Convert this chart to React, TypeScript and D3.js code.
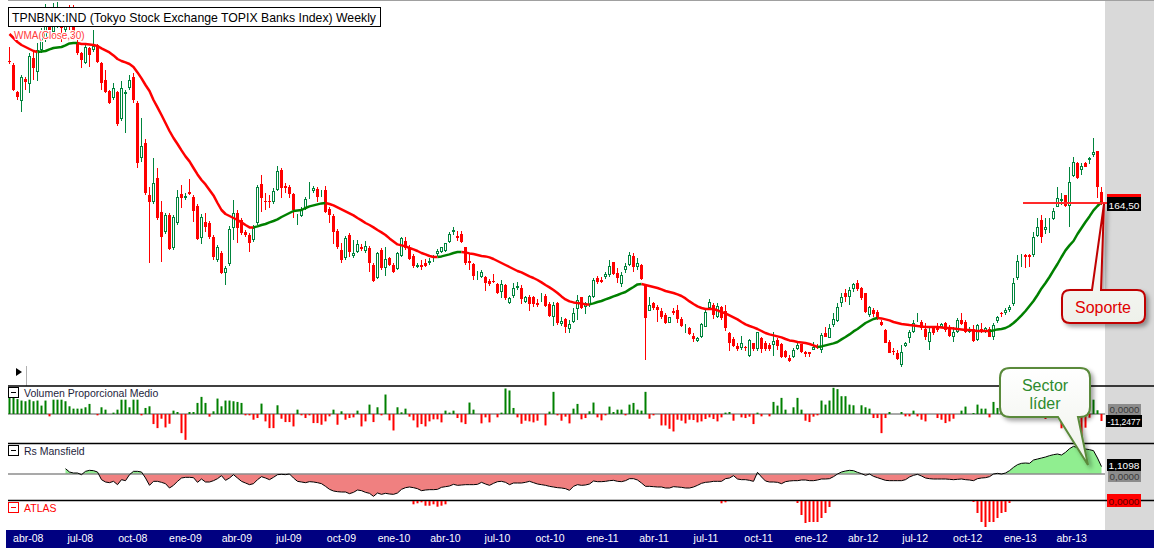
import React from 'react'
import * as d3 from 'd3'

// weekly candles: first and last week (Fridays)
const firstWeek = new Date(2008, 2, 7)
const lastWeek = new Date(2013, 4, 31)

const opens = [
  236, 234, 220.5, 216, 227, 224.5, 237.5, 230.5, 241.5, 247.5,
  255.5, 250.5, 258.5, 259.5, 251.5, 258.5, 259.5, 245.5, 240, 235,
  242.5, 241.5, 244, 235, 226.5, 221, 217.5, 220.5, 207, 219.5,
  222.5, 228, 215, 187.5, 195, 169, 165.5, 177.5, 160.5, 150.5,
  159, 142.5, 155, 169.5, 167.5, 170.5, 168, 163.5, 147.5, 155.5,
  155, 148, 136.5, 140, 130, 134.5, 152.5, 160, 156.5, 150.5,
  149, 146.5, 155, 174.5, 166, 166, 165.5, 171.5, 181.5, 173.5,
  173, 169.5, 156.5, 158.5, 162, 169.5, 171, 172, 170, 171.5,
  162, 158.5, 151, 141.5, 137.5, 149, 138.5, 140.5, 143, 141,
  142.5, 134, 127.5, 141.5, 132.5, 137.5, 134, 132, 138.5, 146,
  143, 138.5, 133, 134, 135, 135, 137.5, 139.5, 140.5, 141,
  145.5, 150.5, 148.5, 149.5, 143, 136, 134.5, 129, 128, 128,
  126, 126, 124.5, 120.5, 124, 115, 118.5, 122.5, 122.5, 115.5,
  118, 118, 115, 116.5, 118.5, 114.5, 108, 115, 104.5, 107,
  102, 105.5, 112, 118, 113, 114, 118, 127.5, 126.5, 128,
  129, 135.5, 130, 124.5, 131.5, 134, 138.5, 133, 134, 124,
  111, 115, 113, 111, 109, 105, 111, 111.5, 107, 103,
  102.5, 98.5, 96, 98, 103, 112.5, 114, 108, 113, 111,
  100, 97, 93.5, 92.5, 93, 88.5, 95, 92, 97.5, 95,
  94, 94, 96.5, 94.5, 91, 87.5, 88, 92, 94.5, 90.5,
  90.5, 91.5, 93.5, 91.5, 100, 97.5, 104, 106, 115, 120,
  118, 122, 125, 122.5, 120, 109, 111.5, 110.5, 105.5, 101.5,
  95.5, 91, 90, 84, 93.5, 97.5, 100.5, 107, 105.5, 102,
  95.5, 103, 103, 103, 105, 103, 98, 100.5, 106.5, 105.5,
  100.5, 102, 96.5, 102, 100.5, 102, 98, 106, 110, 110,
  111.5, 114.5, 127.5, 137.5, 139, 139, 139, 148.5, 156.5, 151.5,
  155.5, 157, 163, 166, 169, 163.5, 178.5, 185, 181.5, 185,
  186.5, 189, 191, 170.5,
]

const highs = [
  243, 235, 221, 229, 228, 240, 240.5, 245, 252.5, 264.5,
  259.5, 265, 265.5, 262.5, 261.5, 264, 264, 246.5, 240.5, 244,
  243, 251.5, 244.5, 235.5, 231.5, 221.5, 225, 221, 226, 221.5,
  229, 230, 216, 207.5, 197, 173, 187.5, 182.5, 166, 160,
  160, 159, 171.5, 174, 170, 177, 169, 164.5, 159.5, 160,
  156, 149, 144, 141, 133.5, 153.5, 166.5, 161.5, 157.5, 151.5,
  150, 154, 174, 179, 170, 169, 172.5, 183.5, 182.5, 175,
  174, 170, 159.5, 163, 168, 175.5, 173.5, 173, 171.5, 173.5,
  163, 159.5, 152, 145, 148.5, 150, 146.5, 146.5, 144.5, 146,
  143.5, 135, 140.5, 142.5, 143, 138, 135, 140.5, 148, 148,
  144, 139.5, 135, 136.5, 137, 137.5, 139, 142, 143, 145,
  150.5, 153, 151, 151, 143, 140, 135, 131, 131.5, 128.5,
  127, 129.5, 125, 126.5, 124.5, 118, 125, 125.5, 124, 118.5,
  119, 118.5, 117, 120, 119.5, 115.5, 115.5, 115.5, 108, 107.5,
  106.5, 112.5, 119, 118, 115.5, 119, 127.5, 128.5, 128, 130.5,
  136.5, 135.5, 132.5, 130.5, 135, 140.5, 140, 137.5, 134.5, 124,
  118, 115.5, 114, 112.5, 110, 108, 112.5, 114, 108, 104.5,
  103, 100, 98, 105, 111.5, 117, 115, 115, 113.5, 114,
  100.5, 98, 95, 98.5, 93.5, 97, 95, 100.5, 98, 96,
  95, 100.5, 97.5, 95, 91.5, 89, 92.5, 95.5, 94.5, 91,
  90.5, 95.5, 94.5, 100, 103, 104.5, 110, 115, 120, 122,
  123, 125, 126.5, 123, 120, 113.5, 112.5, 111.5, 106.5, 102,
  96.5, 92.5, 91.5, 94, 95.5, 101.5, 106.5, 110, 106.5, 105,
  102.5, 103.5, 105, 105, 105.5, 104, 103, 107.5, 110, 106.5,
  103, 104, 104.5, 105, 103, 103, 105, 108.5, 110.5, 112.5,
  114, 127.5, 139, 139.5, 139.5, 139.5, 150.5, 157.5, 159, 157.5,
  157.5, 162.5, 173, 170, 169, 183, 188, 185.5, 185, 185.5,
  188, 197.5, 191, 173,
]

const lows = [
  234.5, 221, 216.5, 210.5, 221.5, 220, 226.5, 226, 240, 245.5,
  248.5, 248.5, 252.5, 245.5, 249.5, 251.5, 246.5, 239, 232.5, 234.5,
  233, 240.5, 235, 221.5, 220, 214.5, 216.5, 203.5, 206, 200,
  221.5, 215, 182.5, 185.5, 169, 135, 164.5, 156.5, 135.5, 149.5,
  141.5, 141.5, 154, 162.5, 166.5, 169, 155.5, 146.5, 144.5, 150.5,
  147, 136.5, 135.5, 129.5, 124, 133.5, 146.5, 145, 149, 148,
  140.5, 145.5, 154, 160.5, 161.5, 162.5, 164.5, 171, 167.5, 170,
  167.5, 157.5, 154, 158, 161.5, 167, 170, 165.5, 168, 160,
  155, 144.5, 142, 135, 136.5, 138, 137.5, 140, 141, 140,
  130.5, 125.5, 127, 131.5, 128.5, 133.5, 130, 131.5, 138, 141.5,
  136.5, 132.5, 132.5, 131.5, 133, 134, 135.5, 138.5, 140, 140.5,
  145, 149, 146, 145, 134, 131.5, 126.5, 126.5, 127.5, 121,
  123.5, 125, 119.5, 117.5, 116.5, 114.5, 117.5, 121.5, 114.5, 115,
  111, 113, 113, 115.5, 113, 108, 103.5, 104, 103.5, 100,
  100, 105, 106.5, 112, 109.5, 113, 117.5, 124.5, 125, 127,
  128, 129, 125, 123, 130, 133.5, 130.5, 131.5, 126.5, 86.5,
  111, 111.5, 105.5, 107, 104.5, 105, 109, 105, 103, 100,
  99, 95.5, 95.5, 97.5, 103, 112.5, 107, 107.5, 106.5, 101,
  91, 93, 91, 91.5, 91, 88, 91, 91, 90, 91,
  91, 88.5, 91.5, 87.5, 87.5, 85.5, 87.5, 91.5, 90, 88,
  88, 91.5, 92, 90, 98, 97.5, 103, 105.5, 113, 115.5,
  114, 120.5, 121, 116.5, 110, 108, 108, 106.5, 103.5, 95,
  90, 89, 86.5, 83, 93, 95, 100, 105.5, 101.5, 96.5,
  91.5, 99, 100.5, 102.5, 100.5, 98, 95.5, 100, 104, 100,
  100, 95.5, 96, 100, 100, 98, 96.5, 105, 108, 109,
  110.5, 113.5, 126.5, 133, 132.5, 133, 138, 148, 145, 149.5,
  150, 156.5, 163, 164, 163, 153, 178, 177, 179, 183,
  184.5, 188, 167.5, 164,
]

const closes = [
  235.5, 221.5, 218, 228, 225.5, 238.5, 232.5, 241.5, 251, 255.5,
  251.5, 259.5, 260.5, 252.5, 257.5, 253.5, 247.5, 240, 236.5, 243,
  239, 243.5, 235.5, 225, 220.5, 215, 222.5, 204.5, 222.5, 220.5,
  226.5, 216.5, 185, 193.5, 170, 165.5, 175, 157.5, 148, 159,
  142, 158, 168, 167.5, 168.5, 169.5, 161, 147, 158, 153,
  148, 138, 143, 130, 132.5, 152, 160, 152.5, 150, 149,
  145, 152.5, 173, 167.5, 165.5, 165.5, 171, 181, 172.5, 172.5,
  169.5, 161.5, 157, 161.5, 167, 170, 172.5, 168, 170.5, 160.5,
  159, 150.5, 143, 136.5, 147.5, 140.5, 140, 144.5, 142, 143.5,
  135, 126, 140, 132.5, 137, 134, 130.5, 140, 147.5, 142.5,
  137, 133.5, 134, 133, 133.5, 136, 138, 141, 143, 145,
  149.5, 151.5, 147.5, 145.5, 135, 135, 128.5, 129.5, 130.5, 125,
  124.5, 125.5, 120, 124.5, 117.5, 117.5, 122.5, 123.5, 117, 118,
  114.5, 114.5, 114, 117, 113.5, 108.5, 114, 105, 106, 103,
  104.5, 110, 116.5, 112.5, 115, 118.5, 126.5, 125.5, 125.5, 129.5,
  133.5, 129.5, 127.5, 129, 133.5, 139, 133, 135, 127, 107.5,
  114, 112.5, 111.5, 108, 105, 108, 110, 107, 103.5, 103.5,
  99.5, 97, 97.5, 104.5, 110.5, 115.5, 109, 113.5, 107.5, 102.5,
  95, 93.5, 92, 95, 92.5, 96.5, 92, 100.5, 92, 92,
  92, 96, 93.5, 88, 88, 86, 91.5, 94, 90.5, 89.5,
  89.5, 93, 92.5, 99, 98, 102.5, 107, 113, 118, 118,
  121.5, 124.5, 122, 117.5, 110.5, 113, 109.5, 107.5, 104, 95,
  90, 90.5, 87, 90.5, 95, 100.5, 105, 107.5, 102.5, 98,
  100.5, 100, 101.5, 104.5, 101.5, 98.5, 100.5, 106.5, 104.5, 100.5,
  102, 96, 104, 100.5, 102.5, 98, 104, 108, 109.5, 111.5,
  113, 125, 136, 138, 138, 138, 148, 153, 148, 153,
  156, 161, 167.5, 167, 163.5, 175.5, 185.5, 177.5, 183.5, 183,
  187.5, 190.5, 173, 164.5,
]

// WMA(Close,30)
const wma30 = [
  249.5, 247.5, 245.5, 244, 243, 242, 241, 240.5, 240.8, 241,
  241.8, 242.5, 242.8, 243, 243.8, 244.8, 245, 245, 244.5, 244.5,
  244.3, 244, 243.5, 242.3, 241.3, 240.3, 238.8, 237, 236, 235.3,
  234.5, 233, 230.3, 227.3, 224, 221, 216.5, 212.8, 209, 205,
  201, 197.5, 194.5, 191.3, 188.3, 185.8, 182.5, 179.3, 176.5, 174.3,
  171.5, 168.8, 165, 161.5, 159.5, 158.5, 157.5, 156.5, 155.3, 154,
  152.8, 152.8, 153.3, 154, 154.5, 155.3, 156, 156.8, 158, 159,
  160, 161, 161.3, 161.5, 162.5, 163.3, 163.8, 164.3, 164.8, 165,
  164.5, 163.8, 162.8, 161.8, 160.8, 159.8, 158.8, 157.5, 156.3, 155,
  154, 152.8, 151.5, 150.3, 149, 147.3, 145.8, 144.3, 143.8, 143.3,
  142.5, 141.8, 141, 140, 139.3, 138.5, 138, 138, 138.3, 138.8,
  139.3, 140, 140.5, 140.5, 140.3, 139.8, 139.5, 139, 138.5, 138.3,
  137.8, 137, 136, 135, 134, 133, 132, 131, 130.3, 129.3,
  128.3, 127.5, 126.5, 125.3, 124, 122.8, 121.5, 120, 118.3, 116.8,
  115.8, 115.3, 115, 114.8, 114.3, 114.3, 114.8, 115.5, 116, 116.8,
  117.5, 118.3, 119, 119.8, 120.5, 121.8, 123, 124.3, 124.5, 124,
  123.5, 123, 122.5, 121.8, 121, 120.5, 120, 119.3, 118.5, 117.3,
  115.8, 114.5, 113.3, 112.5, 112, 112, 112, 111.3, 110.5, 109.8,
  108.8, 107.8, 106.8, 105.5, 104.3, 103.5, 102.8, 102, 101, 100,
  99.3, 98.8, 98.3, 97.8, 97, 96.3, 96, 95.5, 95.3, 95,
  94.5, 93.8, 93, 93.3, 93.8, 94.3, 94.8, 95.5, 96.8, 98,
  99.3, 100.8, 102, 103.5, 105, 106, 107, 107.5, 107.3, 106.8,
  106.3, 105.5, 105, 104.5, 104.3, 104, 103.8, 103.5, 103.3, 103,
  103, 103, 103, 102.8, 102.5, 102.5, 102.3, 102, 101.8, 101.5,
  101.5, 101.3, 101, 101, 101, 101, 101.3, 101.8, 102, 102.5,
  103.5, 105, 106.8, 108.8, 111, 113.5, 116, 119, 122.3, 125,
  128, 131.3, 134.5, 138, 141.3, 143.8, 146, 149.5, 152.5, 155.5,
  158.3, 161.3, 163.5, 165.5,
]

// Volumen Proporcional Medio
const volumenMedio = [
  26, 26, 24, 21.6, 20.5, 23, 20.5, 21.6, 13.5, 21.6,
  -3.8, 23, 23, 23, 20.5, 12.4, 8.6, 8.6, 8.6, 10.8,
  16.2, 0, -2.2, 10.8, 7, 0, 2.2, 7, 23, 23,
  10.8, 23, 23, -2.2, 9.7, 12.4, -16.2, -22.7, -7.6, -21.6,
  -15.7, 5.4, 3.2, -30.8, -41.6, 3.2, 3.2, 17.8, 27.5, 17.8,
  -4.3, 4.3, 24.8, 12.4, 21.6, 21.6, 20.5, 19.4, 17.8, -2.2,
  -2.2, -9.2, -6.5, 16.7, -11.9, -22.7, -22.7, 14, -7.6, -13,
  -13, -20, 7, -2.2, -6.5, -2.2, -14.6, -14.6, -17.3, -11.9,
  -3.8, 7, -17.3, 4.3, -9.2, -6.5, -5.4, 5.4, -20, -11.9,
  15.1, -13, 10.8, -2.2, 31.3, -10.3, -26.5, 10.8, 2.7, 8.6,
  -4.3, -10.3, -21.6, -16.2, -20, -11.9, -8.6, -8.6, -13.5, 5.4,
  2.2, 5.4, -6.5, -13.5, -16.2, 18.4, 7, 0, -15.1, -5.4,
  -13.5, 0, -5.4, 2.2, 41, 37.8, 9.7, -5.4, -15.7, -10.8,
  -11.9, -13.5, -10.8, 0, -18.4, 3.8, 35.6, -2.2, -10.8, -4.3,
  -15.1, 8.6, 16.2, -8.6, -6.5, 4.3, 18.4, -5.4, -10.3, -2.2,
  11.9, 3.2, 7, 7, -2.2, 15.1, 17.8, 7, 5.4, 35.6,
  -7.6, -2.2, 0, -18.4, -18.4, -23.8, -28.1, -9.2, -10.8, -15.1,
  -9.2, -9.7, -13.5, -11.9, -8.1, -5.4, -8.1, -11.9, -5.4, 2.2,
  3.2, -10.8, 0, -5.4, -6.5, -4.3, -16.2, 2.2, -3.8, 0,
  -3.8, 19.4, 13.5, 25.9, 7, 0, 10.8, 25.9, 7, -10.8,
  -13, -4.3, -2.2, 21.6, 15.1, 21.6, 42.1, 40, 28.6, 28.6,
  15.1, 14, 0, 14, 10.8, 8.6, -6.5, -6.5, -30.8, -6.5,
  3.2, 0, 0, 3.2, -3.8, -3.8, 5.4, -3.8, -9.2, -11.9,
  0, 0, -6.5, -9.2, -14.6, -11.9, -7.6, 0, 5.4, 11.9,
  0, 1.6, 15.1, 8.6, 8.6, -5.4, 19.4, 9.7, 8, -3,
  12, 10, 25, 30, 15, -5, -4, 20, 18, -8,
  12, 6, 14, -23, -14, 8, -12, 5, -36, -22,
  -6, 23, 6, -11.2477,
]

// Rs Mansfield (no value before the 15th week)
const rsMansfield: (number | null)[] = [
  null, null, null, null, null, null, null, null, null, null,
  null, null, null, null, 0.8, 0.3, 0.15, 0.15, -0.1, 0.4,
  0.55, 0.5, 0.3, -0.85, -1.2, -1.3, -1.1, -1.6, -0.85, -1.0,
  -0.1, 0.4, 0.4, 0.3, -0.6, -1.7, -1.1, -1.1, -1.25, -1.45,
  -2.1, -1.7, -1.1, -0.6, -0.5, -0.5, -0.55, -1.25, -0.75, -1.2,
  -1.2, -1.0, -0.7, -0.25, -0.95, -0.6, -0.1, -0.6, -1.1, -1.35,
  -1.6, -1.45, -0.85, -0.4, -0.6, -0.85, -0.5, -0.1, -0.05, -0.1,
  0, -0.6, -1.1, -1.2, -1.3, -1.15, -1.2, -1.3, -1.45, -1.85,
  -2.3, -2.55, -2.65, -2.7, -2.7, -2.95, -2.75, -2.4, -2.5, -2.75,
  -2.9, -3.35, -2.85, -3.05, -2.9, -3.0, -3.05, -2.85, -2.3, -2.05,
  -1.95, -2.05, -2.2, -2.5, -2.4, -2.35, -2.35, -2.3, -2.0, -1.9,
  -1.8, -1.55, -1.7, -1.65, -1.6, -1.6, -1.6, -1.55, -1.25, -1.5,
  -1.7, -1.4, -1.15, -1.1, -1.25, -1.6, -1.35, -1.35, -1.35, -1.25,
  -1.1, -1.3, -1.5, -1.6, -1.7, -1.85, -1.95, -2.05, -2.1, -2.2,
  -2.45, -1.85, -1.6, -1.7, -1.65, -1.5, -1.05, -1.15, -1.15, -1.1,
  -1.0, -0.95, -1.1, -1.15, -1.0, -0.7, -0.7, -0.9, -1.35, -1.85,
  -1.85, -1.9, -1.95, -1.95, -2.1, -2.1, -1.9, -1.95, -2.0, -2.1,
  -2.1, -1.95, -1.7, -1.4, -1.25, -1.2, -1.1, -1.1, -1.1, -0.7,
  -0.6, -0.25, -0.75, -0.85, -0.85, -0.95, -1.1, 0.25, -0.45, -1.05,
  -1.2, -1.2, -1.25, -1.45, -1.15, -1.05, -1.0, -1.0, -0.9, -0.9,
  -1.0, -1.0, -0.9, -0.75, -0.75, -0.7, -0.4, 0, 0.3, 0.45,
  0.55, 0.5, 0.25, 0.05, -0.2, 0, -0.35, -0.55, -0.75, -0.95,
  -1.0, -1.0, -1.0, -1.0, -0.85, -0.45, -0.2, -0.05, -0.3, -0.6,
  -0.7, -0.75, -0.75, -0.75, -0.75, -0.8, -0.85, -0.8, -0.75, -0.85,
  -0.9, -1.0, -0.7, -0.6, -0.55, -0.4, 0, 0.1, 0, 0.15,
  0.5, 1.0, 1.4, 1.6, 1.65, 1.6, 2.1, 2.25, 2.4, 2.55,
  2.75, 2.9, 3.0, 2.85, 3.25, 3.8, 4.15, 3.95, 3.85, 3.75,
  3.65, 3.5, 2.4, 1.1098,
]

// ATLAS: only the weeks with a signal
const atlasWeeks = [
  101, 102, 103, 104, 105, 106, 107, 108, 109,
  178, 179,
  197, 198, 199, 200, 201, 202, 203, 204, 205,
  241, 242, 243, 244, 245, 246, 247, 248, 249, 250,
]
const atlasValues = [
  -3.3, -2.3, -1.3, -4.7, -4.7, -3.3, -5.7, -4.7, -3.3,
  -2.3, -1.3,
  -2, -14, -22, -21, -21, -21, -17, -12, -6,
  -1, -12, -21, -26, -21, -21, -17, -12, -11, -2,
]

const esTime = d3.timeFormatLocale({
  dateTime: '%A, %e de %B de %Y, %X',
  date: '%d/%m/%Y',
  time: '%H:%M:%S',
  periods: ['AM', 'PM'],
  days: ['domingo', 'lunes', 'martes', 'miércoles', 'jueves', 'viernes', 'sábado'],
  shortDays: ['dom', 'lun', 'mar', 'mié', 'jue', 'vie', 'sáb'],
  months: ['enero', 'febrero', 'marzo', 'abril', 'mayo', 'junio', 'julio', 'agosto', 'septiembre', 'octubre', 'noviembre', 'diciembre'],
  shortMonths: ['ene', 'feb', 'mar', 'abr', 'may', 'jun', 'jul', 'ago', 'sep', 'oct', 'nov', 'dic'],
})
const esNum = d3.formatLocale({ decimal: ',', thousands: '.', grouping: [3], currency: ['', ' €'], minus: '-' })

const RED = '#ff0000'
const GREEN = '#008000'
const CANDLE_GREEN = '#00843c'
const FONT = '"Liberation Sans", Arial, sans-serif'

export default function App() {
  const weeks = closes.map((_, i) => d3.timeWeek.offset(firstWeek, i))
  const x = d3.scaleTime().domain([firstWeek, lastWeek]).range([9, 1101])
  const cx = (i: number) => Math.round(x(weeks[i]))

  const y = d3.scaleLinear().domain([84, 266.5]).range([365, 0])
  const yVol = d3.scaleLinear().domain([-46, 45]).range([442.6, 386])
  const yRs = d3.scaleLinear().domain([-3.9, 4.5]).range([500, 444])
  const yAtlas = d3.scaleLinear().domain([-27, 0]).range([528, 501])

  // split WMA into rising (green) / falling (red) runs
  const runs: { up: boolean; idx: number[] }[] = []
  let up = wma30[1] > wma30[0]
  let cur = [0]
  for (let i = 1; i < wma30.length; i++) {
    const d = wma30[i] - wma30[i - 1]
    const u = d > 0 ? true : d < 0 ? false : up
    if (u !== up) {
      runs.push({ up, idx: cur })
      cur = [i - 1]
      up = u
    }
    cur.push(i)
  }
  runs.push({ up, idx: cur })
  const wmaLine = d3.line<number>().x((i) => x(weeks[i]) + 0.5).y((i) => y(wma30[i]))

  const idx = d3.range(closes.length)
  const rsArea = d3
    .area<number>()
    .defined((i) => rsMansfield[i] !== null)
    .x((i) => x(weeks[i]) + 0.5)
    .y0(yRs(0))
    .y1((i) => yRs(rsMansfield[i] as number))
  const rsLine = d3
    .line<number>()
    .defined((i) => rsMansfield[i] !== null)
    .x((i) => x(weeks[i]) + 0.5)
    .y((i) => yRs(rsMansfield[i] as number))

  const quarters = d3.timeMonth.every(3)!.range(new Date(2008, 3, 1), new Date(2013, 4, 1))
  const fmtMonth = esTime.format('%b-%y')
  const f2 = esNum.format('.2f')
  const f4 = esNum.format('.4f')

  const lastClose = closes[closes.length - 1]
  const lastVol = volumenMedio[volumenMedio.length - 1]
  const lastRs = rsMansfield[rsMansfield.length - 1] as number

  const panelLabel = (ty: number, text: string, color: string) => (
    <g>
      <rect x={8.5} y={ty - 9.5} width={10} height={10} fill="#fff" stroke={color} />
      <line x1={11} x2={16} y1={ty - 4.5} y2={ty - 4.5} stroke={color} />
      <text x={24} y={ty} fontSize={10.5} fill={color === RED ? RED : '#1e1e3c'}>{text}</text>
    </g>
  )

  const valueBox = (bx: number, by: number, w: number, h: number, bg: string, fg: string, text: string) => (
    <g>
      <rect x={bx} y={by} width={w} height={h} fill={bg} />
      <text
        x={bx + w / 2}
        y={by + h - 2.5}
        fontSize={9.5}
        fill={fg}
        textAnchor="middle"
        textLength={w - 3}
        lengthAdjust="spacingAndGlyphs"
      >
        {text}
      </text>
    </g>
  )

  return (
    <div style={{ position: 'absolute', left: 0, top: 0 }}>
      <svg width={1154} height={548} style={{ display: 'block' }} fontFamily={FONT}>
        <defs>
          <filter id="shadow" x="-20%" y="-20%" width="150%" height="150%">
            <feDropShadow dx="3" dy="3" stdDeviation="2" floodColor="#000" floodOpacity="0.35" />
          </filter>
          <linearGradient id="calloutFill" x1="0" y1="0" x2="0" y2="1">
            <stop offset="0" stopColor="#ffffff" />
            <stop offset="1" stopColor="#eef1ea" />
          </linearGradient>
          <clipPath id="rsPos">
            <rect x={0} y={440} width={1154} height={yRs(0) - 440} />
          </clipPath>
          <clipPath id="rsNeg">
            <rect x={0} y={yRs(0)} width={1154} height={500 - yRs(0)} />
          </clipPath>
        </defs>

        <rect x={0} y={0} width={1154} height={548} fill="#fff" />
        <rect x={1105} y={0} width={49} height={530} fill="#d9d9d9" />
        <line x1={8} x2={1154} y1={0.5} y2={0.5} stroke="#a0a0a0" />

        {/* candles */}
        {idx.map((i) => {
          const o = opens[i]
          const c = closes[i]
          const isUp = c >= o
          const px = cx(i)
          const top = Math.round(y(Math.max(o, c)))
          const bot = Math.round(y(Math.min(o, c)))
          const col = isUp ? CANDLE_GREEN : RED
          return (
            <g key={i}>
              <line x1={px + 0.5} x2={px + 0.5} y1={y(highs[i])} y2={y(lows[i])} stroke={col} />
              {isUp ? (
                <rect x={px - 0.5} y={top + 0.5} width={2} height={Math.max(bot - top - 1, 0)} fill="#fff" stroke={col} />
              ) : (
                <rect x={px - 1} y={top} width={3} height={Math.max(bot - top, 1)} fill={col} />
              )}
            </g>
          )
        })}

        {/* WMA(Close,30) */}
        {runs.map((r, k) => (
          <path key={k} d={wmaLine(r.idx) || ''} fill="none" stroke={r.up ? GREEN : RED} strokeWidth={2.5} strokeLinejoin="round" />
        ))}

        <rect x={8.5} y={7.5} width={372} height={19} fill="#fff" stroke="#000" />
        <text x={12} y={22} fontSize={13} fill="#000" textLength={364} lengthAdjust="spacingAndGlyphs">
          TPNBNK:IND (Tokyo Stock Exchange TOPIX Banks Index) Weekly
        </text>
        <text x={14} y={39} fontSize={10} fill="#ff3b3b" stroke="#fff" strokeWidth={2} paintOrder="stroke">
          WMA(Close,30)
        </text>
        <path d="M16,368 L22,372 L16,376 Z" fill="#000" />
        <line x1={26.5} x2={26.5} y1={366} y2={386} stroke="#b0b0b0" />

        {/* support line */}
        <line x1={1023} x2={1107} y1={y(lastClose) - 1} y2={y(lastClose) - 1} stroke="#ff2a2a" strokeWidth={2} />

        {/* price labels */}
        <rect x={1107} y={194} width={34} height={6} fill={RED} />
        {valueBox(1107, y(lastClose) - 7, 34, 14, '#000', '#fff', f2(lastClose))}

        {/* panel separators */}
        {[386, 443.5, 500.5].map((ly) => (
          <line key={ly} x1={8} x2={1154} y1={ly} y2={ly} stroke="#000" strokeWidth={1.5} />
        ))}

        {/* Volumen Proporcional Medio */}
        <line x1={8} x2={1105} y1={yVol(0)} y2={yVol(0)} stroke="#8c8c8c" strokeWidth={1.5} />
        {volumenMedio.map((v, i) =>
          v === 0 ? null : (
            <rect
              key={i}
              x={cx(i) - 0.5}
              y={Math.min(yVol(v), yVol(0))}
              width={2}
              height={Math.abs(yVol(v) - yVol(0))}
              fill={v > 0 ? GREEN : RED}
            />
          )
        )}
        {valueBox(1108, 404, 33, 11, '#8c8c8c', '#3a3a3a', f4(0))}
        {valueBox(1106, 415, 36, 12, '#000', '#fff', f4(lastVol))}

        {/* Rs Mansfield */}
        <path d={rsArea(idx) || ''} fill="#90ee90" clipPath="url(#rsPos)" />
        <path d={rsArea(idx) || ''} fill="#f08080" clipPath="url(#rsNeg)" />
        <line x1={8} x2={1105} y1={yRs(0)} y2={yRs(0)} stroke="#8c8c8c" strokeWidth={1.5} />
        <path d={rsLine(idx) || ''} fill="none" stroke="#000" strokeWidth={1} />
        {valueBox(1108, 471, 33, 11, '#8c8c8c', '#3a3a3a', f4(0))}
        {valueBox(1107, 459, 34, 12, '#000', '#fff', f4(lastRs))}

        {/* ATLAS */}
        {atlasWeeks.map((w, k) => (
          <rect key={w} x={cx(w) - 0.5} y={yAtlas(0)} width={2} height={yAtlas(atlasValues[k]) - yAtlas(0)} fill={RED} />
        ))}
        {valueBox(1107, 494, 34, 13, RED, '#5a0000', f4(0))}

        {panelLabel(397, 'Volumen Proporcional Medio', '#000')}
        {panelLabel(455, 'Rs Mansfield', '#000')}
        {panelLabel(512, 'ATLAS', RED)}

        {/* x axis */}
        <rect x={6} y={530} width={1148} height={18} fill="#000080" />
        {quarters.map((d) => (
          <text key={+d} x={x(d) + 5} y={542} fontSize={10.5} fill="#fff" textAnchor="middle">
            {fmtMonth(d)}
          </text>
        ))}

        {/* callouts */}
        <path
          d="M1070,290 H1092 L1104,204 L1101,290 H1137 Q1145,290 1145,298 V315 Q1145,323 1137,323 H1070 Q1062,323 1062,315 V298 Q1062,290 1070,290 Z"
          fill="url(#calloutFill)"
          stroke="#c00000"
          strokeWidth={2}
          filter="url(#shadow)"
        />
        <text x={1103} y={313} fontSize={16} fill="#e00000" textAnchor="middle">Soporte</text>

        <path
          d="M1010,368 H1080 Q1090,368 1090,378 V407 Q1090,417 1080,417 H1078 L1088,465 L1058,417 H1010 Q1000,417 1000,407 V378 Q1000,368 1010,368 Z"
          fill="url(#calloutFill)"
          stroke="#5a8a3a"
          strokeWidth={2}
          filter="url(#shadow)"
        />
        <text x={1045} y={391} fontSize={16} fill="#2e8b2e" textAnchor="middle">Sector</text>
        <text x={1045} y={409} fontSize={16} fill="#2e8b2e" textAnchor="middle">líder</text>
      </svg>
    </div>
  )
}
